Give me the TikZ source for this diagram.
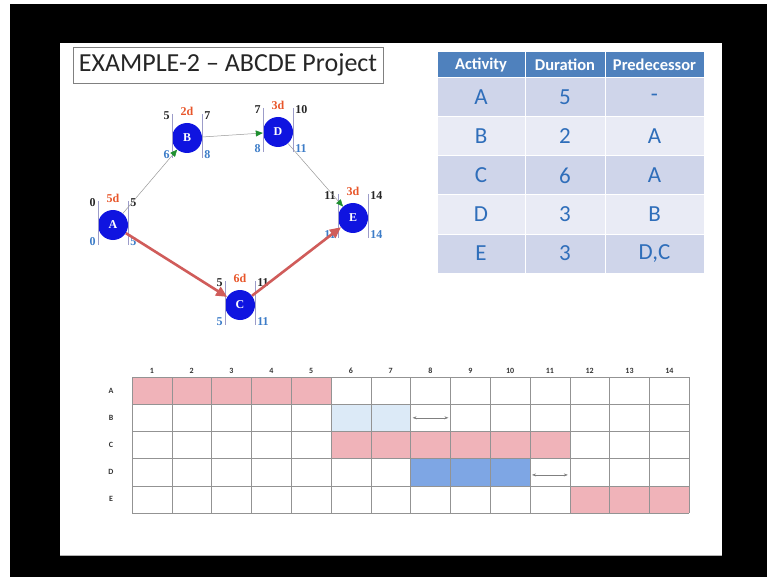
\documentclass[tikz,border=0pt]{standalone}
\usepackage{fontspec}
\setmainfont{Carlito}
\newfontfamily\numfont{Liberation Serif}
\usetikzlibrary{shapes,positioning,fit,calc,arrows.meta}

\definecolor{hdrblue}{HTML}{4F81BD}
\definecolor{rowdark}{HTML}{CFD5EA}
\definecolor{rowlight}{HTML}{E9EBF5}
\definecolor{txtblue}{HTML}{2F6EBA}
\definecolor{nodeblue}{HTML}{0F14E0}
\definecolor{durred}{HTML}{E8562A}
\definecolor{lateblue}{HTML}{3C7CC8}
\definecolor{critred}{HTML}{D05C5A}
\definecolor{arrgreen}{HTML}{1F8F2F}
\definecolor{barpink}{HTML}{F0B3B9}
\definecolor{barlight}{HTML}{DCEAF7}
\definecolor{barblue}{HTML}{7EA6E4}

\tikzset{
    titlebox/.style={draw=gray, fill=white, minimum width=310pt, minimum height=36pt,
        inner sep=0pt, text=black!85, font=\fontsize{26}{26}\selectfont},
    act/.style={circle, fill=nodeblue, minimum size=30pt, inner sep=0pt, text=white,
        font=\numfont\bfseries\fontsize{12}{12}\selectfont},
    early/.style={inner sep=1pt, text=black!85, font=\numfont\bfseries\fontsize{12}{12}\selectfont},
    late/.style={inner sep=1pt, text=lateblue, font=\numfont\bfseries\fontsize{12}{12}\selectfont},
    dur/.style={inner sep=1pt, text=durred, font=\numfont\bfseries\fontsize{12}{12}\selectfont},
    tick/.style={draw=gray!70!blue!60, line width=0.6pt},
    flow/.style={draw=gray!80, line width=0.5pt, -{Triangle[length=7pt, width=6pt, color=arrgreen]}},
    crit/.style={draw=critred, line width=2.6pt, -{Triangle[length=11pt, width=10pt]}},
    hdr/.style={fill=hdrblue, draw=white, line width=1pt, minimum height=26pt, inner sep=0pt,
        text=white, font=\bfseries\fontsize{16.5}{16.5}\selectfont},
    cell/.style={draw=white, line width=1pt, minimum height=39pt, inner sep=0pt,
        text=txtblue, font=\fontsize{23}{23}\selectfont},
    ganttline/.style={draw=gray!85, line width=0.6pt},
    daylabel/.style={inner sep=0pt, text=black!80, font=\bfseries\fontsize{8}{8}\selectfont},
    slack/.style={draw=gray, line width=0.5pt, {Stealth[length=4pt]}-{Stealth[length=4pt]}}
}

\begin{document}
\begin{tikzpicture}[x=1pt, y=-1pt]
            \useasboundingbox (0,0) rectangle (767,577);
            \fill[white] (0,0) rectangle (767,577);
            \fill[black] (10,4) rectangle (767,577);
            \fill[white] (60,43) rectangle (722,555);
            \draw[gray!60] (60,555) -- (722,555);

            \node[titlebox] (title) at (228,65) {EXAMPLE-2 -- ABCDE Project};

            % network
            \node[act] (A) at (113,225) {A};
            \node[act] (B) at (187,138) {B};
            \node[act] (D) at (278,132) {D};
            \node[act] (E) at (353,218) {E};
            \node[act] (C) at (240,305) {C};

            \foreach \n/\es/\ef/\ls/\lf/\d in {A/0/5/0/5/5d, B/5/7/6/8/2d, C/5/11/5/11/6d,
                D/7/10/8/11/3d, E/11/14/11/14/3d}{
                \draw[tick] ($(\n.west)+(0,-24)$) -- ($(\n.west)+(0,20)$);
                \draw[tick] ($(\n.east)+(0,-24)$) -- ($(\n.east)+(0,20)$);
                \node[early, anchor=east] (\n-es) at ($(\n.west)+(-1,-22)$) {\es};
                \node[early, anchor=west] (\n-ef) at ($(\n.east)+(1,-22)$) {\ef};
                \node[late, anchor=east] (\n-ls) at ($(\n.west)+(-1,17)$) {\ls};
                \node[late, anchor=west] (\n-lf) at ($(\n.east)+(1,17)$) {\lf};
                \node[dur] (\n-dur) at ($(\n)+(0,-27)$) {\d};
            }

            \draw[flow] (A) -- (B);
            \draw[flow] (B) -- (D);
            \draw[flow] (D) -- (E);
            \draw[crit] (A) -- (C);
            \draw[crit] (C) -- (E);

            % table
            \node[hdr, minimum width=88pt] (h1) at (481,65) {Activity};
            \node[hdr, minimum width=80pt] (h2) at (565,65) {Duration};
            \node[hdr, minimum width=99pt] (h3) at (654.5,65) {Predecessor};
            \foreach \a/\t/\p/\col [count=\i] in {A/5/-/rowdark, B/2/A/rowlight, C/6/A/rowdark,
                D/3/B/rowlight, E/3/{D,C}/rowdark}{
                \node[cell, fill=\col, minimum width=88pt] (act\i) at (481,{58.5+39*\i}) {\a};
                \node[cell, fill=\col, minimum width=80pt] (dur\i) at (565,{58.5+39*\i}) {\t};
                \node[cell, fill=\col, minimum width=99pt] (pre\i) at (654.5,{58.5+39*\i}) {\p};
            }

            % gantt chart
            \def\gx{132}
            \def\gy{377}
            \def\cw{39.8}
            \def\rh{27.2}
            \fill[barpink] (\gx,\gy) rectangle ++({5*\cw},\rh);
            \fill[barlight] ({\gx+5*\cw},{\gy+\rh}) rectangle ++({2*\cw},\rh);
            \fill[barpink] ({\gx+5*\cw},{\gy+2*\rh}) rectangle ++({6*\cw},\rh);
            \fill[barblue] ({\gx+7*\cw},{\gy+3*\rh}) rectangle ++({3*\cw},\rh);
            \fill[barpink] ({\gx+11*\cw},{\gy+4*\rh}) rectangle ++({3*\cw},\rh);

            \foreach \c in {0,...,14}
            \draw[ganttline] ({\gx+\c*\cw},\gy) -- ++(0,{5*\rh});
            \foreach \r in {0,...,5}
            \draw[ganttline] (\gx,{\gy+\r*\rh}) -- ++({14*\cw},0);

            \foreach \c in {1,...,14}
            \node[daylabel] (day\c) at ({\gx+(\c-0.5)*\cw},{\gy-6}) {\c};
            \foreach \a [count=\r] in {A,...,E}
            \node[daylabel] (row\a) at (111,{\gy+(\r-0.5)*\rh}) {\a};

            \coordinate (gapB1) at ({\gx+7*\cw+2},{\gy+1.5*\rh});
            \coordinate (gapB2) at ({\gx+8*\cw-2},{\gy+1.5*\rh});
            \coordinate (gapD1) at ({\gx+10*\cw+2},{\gy+3.6*\rh});
            \coordinate (gapD2) at ({\gx+11*\cw-2},{\gy+3.6*\rh});
            \draw[slack] (gapB1) -- (gapB2);
            \draw[slack] (gapD1) -- (gapD2);
\end{tikzpicture}
\end{document}
